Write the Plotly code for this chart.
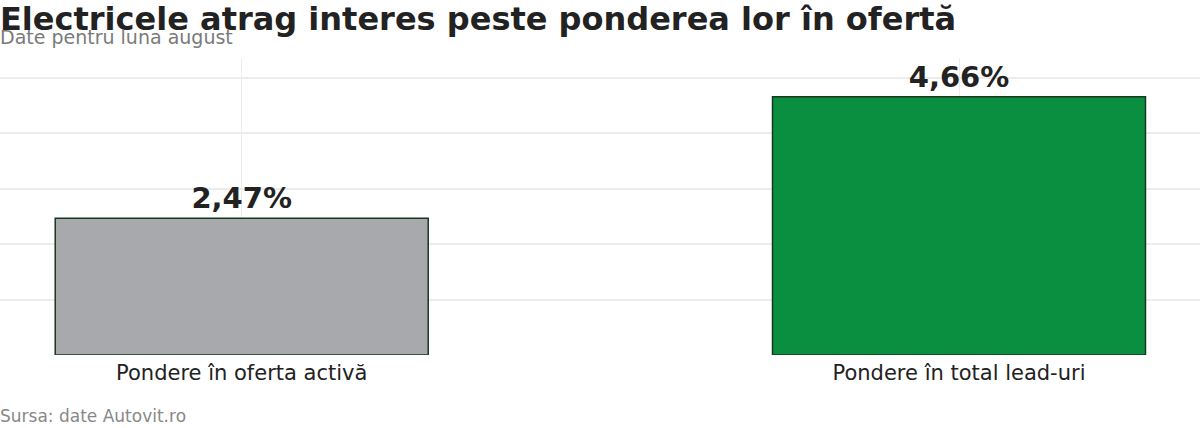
import plotly.graph_objects as go

categories = ["Pondere în oferta activă", "Pondere în total lead-uri"]
values = [2.47, 4.66]
bar_colors = ["#a7a9ac", "#0a8f40"]

title = "Electricele atrag interes peste ponderea lor în ofertă"
subtitle = "Date pentru luna august"
source = "Sursa: date Autovit.ro"

font = "DejaVu Sans"

fig = go.Figure(
    go.Bar(
        x=categories,
        y=values,
        width=0.52,
        marker=dict(color=bar_colors, line=dict(color="#17381f", width=1.5)),
        texttemplate="%{y:.2f}%",
        textposition="outside",
        textfont=dict(family=font, size=29, color="#222222", weight="bold"),
        cliponaxis=False,
        hoverinfo="skip",
    )
)

fig.update_layout(
    width=1200,
    height=428,
    margin=dict(l=0, r=0, t=58, b=73),
    paper_bgcolor="white",
    plot_bgcolor="white",
    separators=",.",
    showlegend=False,
    font=dict(family=font, color="#222222"),
)

fig.update_xaxes(
    range=[-0.337, 1.336],
    showgrid=True,
    gridcolor="#ececec",
    gridwidth=1,
    tickfont=dict(family=font, size=21, color="#222222"),
    ticklabelstandoff=3,
    ticks="",
    showline=False,
    zeroline=False,
)
fig.update_yaxes(
    range=[0, 5.36],
    dtick=1,
    showgrid=True,
    gridcolor="#ececec",
    gridwidth=2,
    showticklabels=False,
    zeroline=False,
    showline=False,
)

fig.add_annotation(
    text="<b>" + title + "</b>",
    xref="paper", yref="paper", x=0, y=1.132,
    xanchor="left", yanchor="middle", xshift=-2,
    showarrow=False, font=dict(family=font, size=32, color="#222222"),
)
fig.add_annotation(
    text=subtitle,
    xref="paper", yref="paper", x=0, y=1.072,
    xanchor="left", yanchor="middle", xshift=-2,
    showarrow=False, font=dict(family=font, size=19, color="#7a7a7a"),
)
fig.add_annotation(
    text=source,
    xref="paper", yref="paper", x=0, y=-0.2458,
    xanchor="left", yanchor="bottom", xshift=-2,
    showarrow=False, font=dict(family=font, size=17, color="#888888"),
)

# drop the default 8px page margin so the figure sits at the window corner
fig.write_html(
    "out.html",
    config={"displayModeBar": False},
    post_script="document.body.style.margin='0px';",
)
